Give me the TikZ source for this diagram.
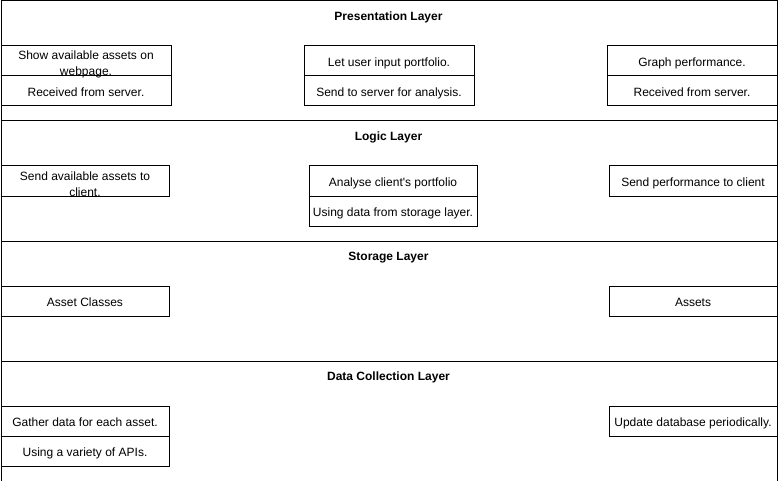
\documentclass[tikz,border=0pt]{standalone}
\usepackage{fontspec}
\setmainfont{Liberation Sans}
\begin{document}
\begin{tikzpicture}[x=1pt,y=-1pt,
  line width=1pt,
  every node/.style={font=\fontsize{12}{15}\selectfont},
  layerbox/.style={draw=black, rectangle, inner sep=0pt, anchor=north west, minimum width=776pt, minimum height=120pt},
  title/.style={font=\fontsize{12}{15}\selectfont\bfseries},
  cell/.style={draw=black, rectangle, inner sep=0pt, anchor=north west, minimum height=30pt, text height=11pt, text depth=0.5pt},
  txt/.style={align=center, inner sep=0pt, font=\fontsize{12}{16.5}\selectfont}]
\useasboundingbox (0,0) rectangle (781,481);
% layers
\node[layerbox] (L1) at (0.5,0.5) {};
\node[layerbox] (L2) at (0.5,120.5) {};
\node[layerbox] (L3) at (0.5,240.5) {};
\node[layerbox] (L4) at (0.5,360.5) {};
\node[title] (t1) at (388.5,17.5) {Presentation Layer};
\node[title] (t2) at (388.5,137.5) {Logic Layer};
\node[title] (t3) at (388.5,257.5) {Storage Layer};
\node[title] (t4) at (388.5,377.5) {Data Collection Layer};
% presentation
\node[cell, minimum width=170pt] (p1a) at (0.5,45.5) {};
\node[txt] (p1at) at ([yshift=-3.5pt]p1a.center) {Show available assets on\\webpage.};
\node[cell, minimum width=170pt] (p1b) at (0.5,75.5) {Received from server.};
\node[cell, minimum width=170pt] (p2a) at (303.5,45.5) {Let user input portfolio.};
\node[cell, minimum width=170pt] (p2b) at (303.5,75.5) {Send to server for analysis.};
\node[cell, minimum width=170pt] (p3a) at (606.5,45.5) {Graph performance.};
\node[cell, minimum width=170pt] (p3b) at (606.5,75.5) {Received from server.};
% logic
\node[cell, minimum width=168pt] (l1) at (0.5,165.5) {};
\node[txt] (l1t) at ([yshift=-3pt]l1.center) {Send available assets to\\client.};
\node[cell, minimum width=168pt] (l2a) at (308.5,165.5) {Analyse client\textquotesingle s portfolio};
\node[cell, minimum width=168pt] (l2b) at (308.5,195.5) {Using data from storage layer.};
\node[cell, minimum width=168pt] (l3) at (608.5,165.5) {Send performance to client};
% storage
\node[cell, minimum width=168pt] (s1) at (0.5,285.5) {Asset Classes};
\node[cell, minimum width=168pt] (s2) at (608.5,285.5) {Assets};
% data collection
\node[cell, minimum width=168pt] (d1a) at (0.5,405.5) {Gather data for each asset.};
\node[cell, minimum width=168pt] (d1b) at (0.5,435.5) {Using a variety of APIs.};
\node[cell, minimum width=168pt] (d2) at (608.5,405.5) {Update database periodically.};
\end{tikzpicture}
\end{document}
